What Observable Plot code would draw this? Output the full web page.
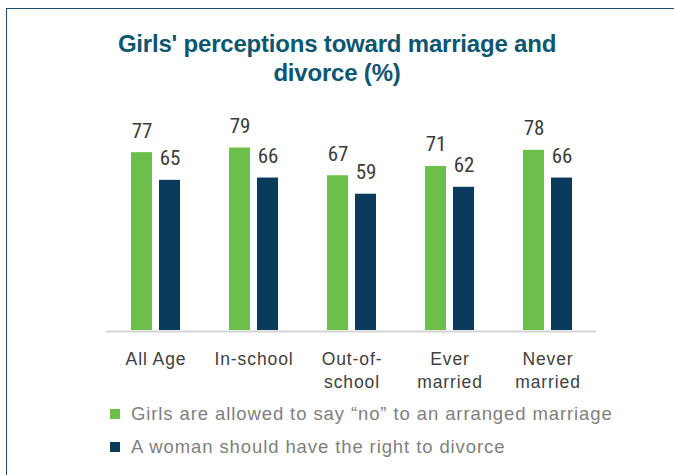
<!DOCTYPE html>
<html>
<head>
<meta charset="utf-8">
<script src="https://cdn.jsdelivr.net/npm/d3@7"></script>
<script src="https://cdn.jsdelivr.net/npm/@observablehq/plot@0.6"></script>
<style>
  html, body { margin: 0; padding: 0; background: #fff; }
  body { width: 674px; height: 475px; position: relative; overflow: hidden; font-family: "Liberation Sans", Arial, sans-serif; }
  #frame { position: absolute; left: 6px; top: 8px; right: -10px; bottom: -10px;
           border-top: 1.5px solid #1d4d6d; border-left: 1.5px solid #1d4d6d; pointer-events: none; }
  #title { height: 95px; box-sizing: border-box; padding-top: 30px; text-align: center;
           font-family: "Liberation Sans", Arial, sans-serif; letter-spacing: -0.2px;
           font-weight: bold; font-size: 24px; line-height: 28.5px; color: #0d5671; }
  #chart svg { display: block; }
  #chart svg [aria-label="x-axis tick label"] text { letter-spacing: 0.9px; }
  #legend { position: relative; padding-top: 2px; }
  .row { display: flex; align-items: center; height: 33px; padding-left: 110px;
         font-size: 18.5px; letter-spacing: 0.9px; color: #7f7f7f; }
  .sw { width: 10px; height: 10px; margin-right: 11px; flex: none; }
</style>
</head>
<body>
<div id="title">Girls' perceptions toward marriage and<br>divorce (%)</div>
<div id="chart"></div>
<div id="legend"></div>
<div id="frame"></div>
<script>
const categories = ["All Age", "In-school", "Out-of-school", "Ever married", "Never married"];
const tickLabels = ["All Age", "In-school", "Out-of-\nschool", "Ever\nmarried", "Never\nmarried"];
const seriesNames = ["Girls are allowed to say \u201cno\u201d to an arranged marriage", "A woman should have the right to divorce"];
const seriesColors = ["#6cbf4b", "#0b3b5c"];
const sayNo = [77, 79, 67, 71, 78];
const divorce = [65, 66, 59, 62, 66];

const greenData = categories.map((c, i) => ({cat: c, v: sayNo[i]}));
const navyData = categories.map((c, i) => ({cat: c, v: divorce[i]}));
const labelOf = new Map(categories.map((c, i) => [c, tickLabels[i]]));

const narrow = "'Liberation Sans Narrow', 'Arial Narrow', 'Roboto Condensed', sans-serif";

const plot = Plot.plot({
  width: 674,
  height: 300,
  marginTop: 4,
  marginBottom: 65,
  marginLeft: 106,
  marginRight: 78,
  style: {fontFamily: "'Liberation Sans', Arial, sans-serif", background: "transparent", overflow: "visible"},
  x: {domain: categories, paddingInner: 0.5, paddingOuter: 0.25, label: null},
  y: {domain: [0, 100], axis: null},
  marks: [
    Plot.ruleY([0], {stroke: "#d4d4d4", strokeWidth: 2, dy: 1}),
    Plot.barY(greenData, {x: "cat", y: "v", fill: seriesColors[0], insetRight: 28, insetLeft: 0}),
    Plot.barY(navyData, {x: "cat", y: "v", fill: seriesColors[1], insetLeft: 28, insetRight: 0}),
    Plot.text(greenData, {x: "cat", y: "v", text: d => String(d.v), dx: -14, dy: -15, lineAnchor: "bottom",
      fontSize: 21, fontFamily: narrow, fill: "#3b3b3b"}),
    Plot.text(navyData, {x: "cat", y: "v", text: d => String(d.v), dx: 14, dy: -15, lineAnchor: "bottom",
      fontSize: 21, fontFamily: narrow, fill: "#3b3b3b"}),
    Plot.axisX({tickSize: 0, tickPadding: 18.5, fontSize: 17.5, lineHeight: 1.31, fill: "#404040",
      tickFormat: c => labelOf.get(c), label: null})
  ]
});
document.getElementById("chart").appendChild(plot);

const legend = document.getElementById("legend");
seriesNames.forEach((name, i) => {
  const row = document.createElement("div");
  row.className = "row";
  const sw = document.createElement("span");
  sw.className = "sw";
  sw.style.background = seriesColors[i];
  const t = document.createElement("span");
  t.textContent = name;
  row.appendChild(sw);
  row.appendChild(t);
  legend.appendChild(row);
});
</script>
</body>
</html>
